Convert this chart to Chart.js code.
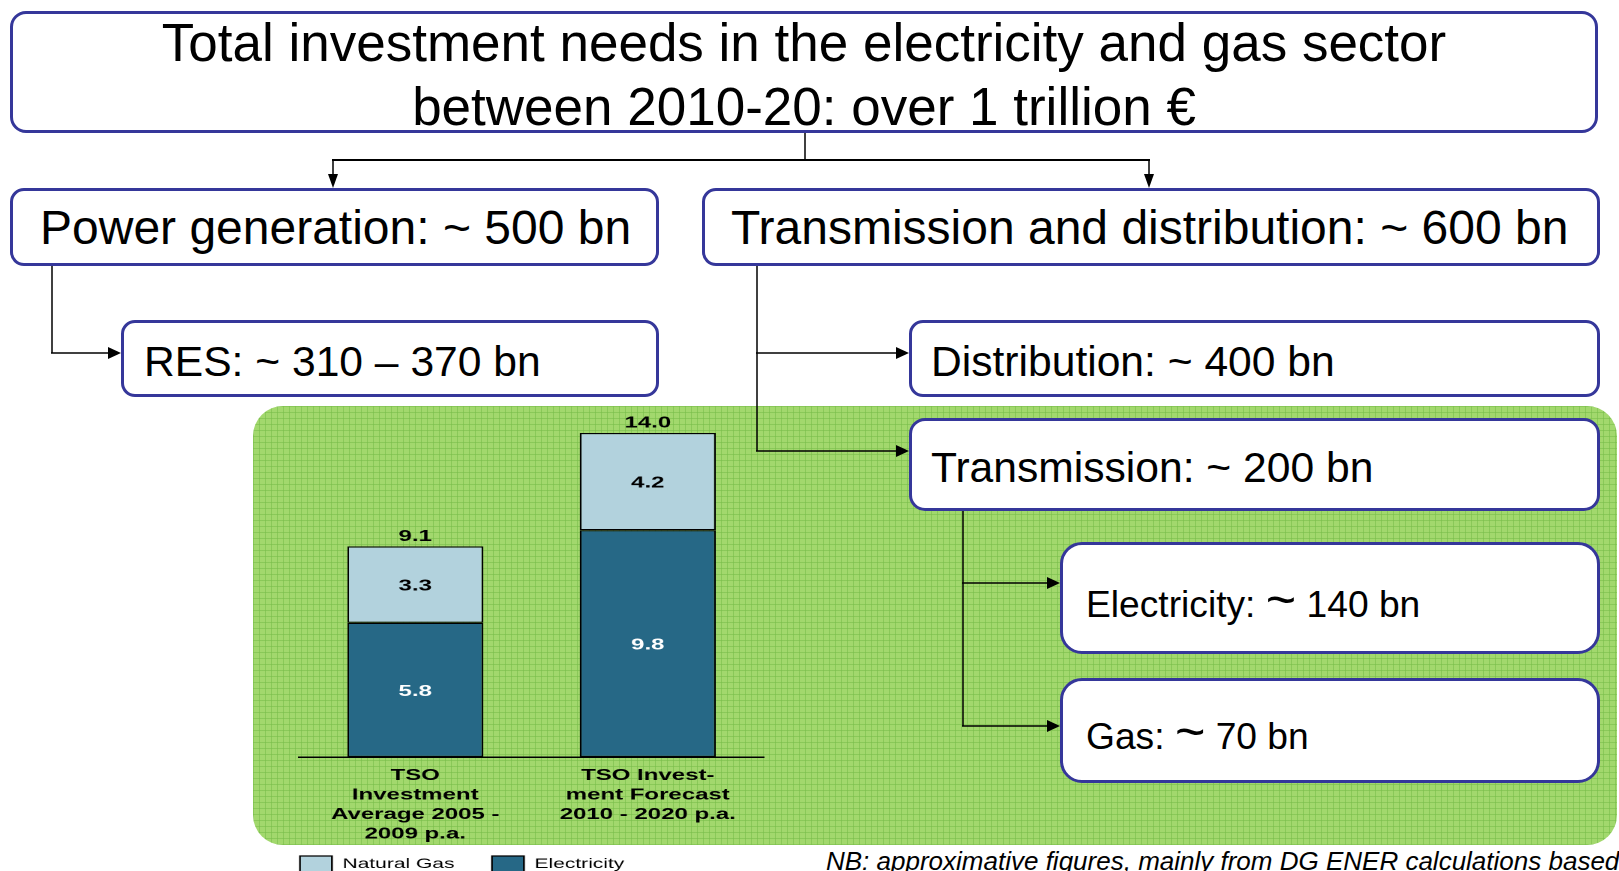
<!DOCTYPE html>
<html>
<head>
<meta charset="utf-8">
<title>Total investment needs in the electricity and gas sector</title>
<script src="https://cdn.jsdelivr.net/npm/chart.js@4.4.1/dist/chart.umd.min.js"></script>
<style>
    html, body { margin: 0; padding: 0; }
    body {
        width: 1619px; height: 871px; overflow: hidden; position: relative;
        background: #fff; color: #000;
        font-family: "Liberation Sans", Arial, sans-serif;
    }
    .green {
        position: absolute; left: 253px; top: 406px; width: 1364px; height: 439px;
        border-radius: 30px;
        background-color: #a2d86d;
        background-image:
            repeating-linear-gradient(0deg, rgba(118, 188, 72, .55) 0 1px, transparent 1px 6px),
            repeating-linear-gradient(90deg, rgba(118, 188, 72, .55) 0 1px, transparent 1px 6px);
    }
    .box {
        position: absolute; box-sizing: border-box; background: #fff;
        border: 3px solid #35379a; border-radius: 14px;
    }
    .txt { position: absolute; white-space: pre; line-height: 1; }
    .big { font-size: 1.4em; line-height: 0; }
    #wires { position: absolute; left: 0; top: 0; }
    #chartWrap {
        position: absolute; left: 253px; top: 380px; width: 360px; height: 510px;
        transform: scaleX(1.5); transform-origin: 0 0;
    }
    .nb { position: absolute; left: 826px; top: 848px; font-size: 26px; font-style: italic; line-height: 1; white-space: nowrap; }
</style>
</head>
<body>

<div class="green"></div>

<!-- boxes -->
<div class="box" style="left:10px;top:11px;width:1588px;height:122px;border-radius:16px;"></div>
<div class="box" style="left:10px;top:188px;width:649px;height:78px;"></div>
<div class="box" style="left:702px;top:188px;width:898px;height:78px;"></div>
<div class="box" style="left:121px;top:320px;width:538px;height:77px;"></div>
<div class="box" style="left:909px;top:320px;width:691px;height:77px;"></div>
<div class="box" style="left:909px;top:418px;width:691px;height:93px;border-radius:16px;"></div>
<div class="box" style="left:1060px;top:542px;width:540px;height:112px;border-radius:22px;"></div>
<div class="box" style="left:1060px;top:678px;width:540px;height:105px;border-radius:22px;"></div>

<!-- texts -->
<div class="txt" style="left:10px;width:1588px;text-align:center;top:15.8px;font-size:53px;">Total investment needs in the electricity and gas sector</div>
<div class="txt" style="left:10px;width:1588px;text-align:center;top:80.1px;font-size:53px;">between 2010-20: over 1 trillion €</div>
<div class="txt" style="left:40px;top:203.5px;font-size:48px;">Power generation: ~ 500 bn</div>
<div class="txt" style="left:731px;top:203.5px;font-size:48px;">Transmission and distribution: ~ 600 bn</div>
<div class="txt" style="left:144px;top:339.5px;font-size:42.6px;">RES: ~ 310 – 370 bn</div>
<div class="txt" style="left:931px;top:339.5px;font-size:42.6px;">Distribution: ~ 400 bn</div>
<div class="txt" style="left:931px;top:446px;font-size:42.6px;">Transmission: ~ 200 bn</div>
<div class="txt" style="left:1086px;top:586px;font-size:37.2px;">Electricity: <span class="big">~</span> 140 bn</div>
<div class="txt" style="left:1086px;top:718px;font-size:37.2px;">Gas: <span class="big">~</span> 70 bn</div>

<div class="nb">NB: approximative figures, mainly from DG ENER calculations based</div>

<!-- connectors -->
<svg id="wires" width="1619" height="871" xmlns="http://www.w3.org/2000/svg">
    <g stroke="#000" stroke-width="1.5" fill="none">
        <line x1="805" y1="133" x2="805" y2="160"/>
        <line x1="332" y1="160" x2="1150" y2="160" stroke-width="2"/>
        <line x1="333" y1="160" x2="333" y2="176"/>
        <line x1="1149" y1="160" x2="1149" y2="176"/>
        <line x1="52" y1="266" x2="52" y2="353"/>
        <line x1="51" y1="353" x2="110" y2="353"/>
        <line x1="757" y1="266" x2="757" y2="451"/>
        <line x1="756" y1="353" x2="898" y2="353"/>
        <line x1="756" y1="451" x2="898" y2="451"/>
        <line x1="963" y1="511" x2="963" y2="726"/>
        <line x1="962" y1="583" x2="1049" y2="583"/>
        <line x1="962" y1="726" x2="1049" y2="726"/>
    </g>
    <g fill="#000">
        <polygon points="328,174 338,174 333,188"/>
        <polygon points="1144,174 1154,174 1149,188"/>
        <polygon points="108,347 108,359 121,353"/>
        <polygon points="896,347 896,359 909,353"/>
        <polygon points="896,445 896,457 909,451"/>
        <polygon points="1047,577 1047,589 1060,583"/>
        <polygon points="1047,720 1047,732 1060,726"/>
    </g>
</svg>

<div id="chartWrap"><canvas id="tsoChart" width="360" height="510"></canvas></div>

<script>
// ================= DATA =================

const categories = [
    ['TSO', 'Investment', 'Average 2005 -', '2009 p.a.'],
    ['TSO Invest-', 'ment Forecast', '2010 - 2020 p.a.']
];
const electricityValues = [5.8, 9.8];
const naturalGasValues = [3.3, 4.2];
const seriesNames = ['Electricity', 'Natural Gas'];

const ELEC_COLOR = '#266886';
const GAS_COLOR = '#b2d2dd';
const FONT_FAMILY = '"Liberation Sans", Arial, sans-serif';

// ================= VALUE LABELS =================

const barLabels = {
    id: 'barLabels',
    afterLayout(chart) {
        // let the multi-line category labels run below the axis box
        const x = chart.scales.x;
        x.bottom = x.top + 110;
    },
    afterDatasetsDraw(chart) {
        const ctx = chart.ctx;
        const sets = chart.data.datasets;
        ctx.save();
        ctx.font = 'bold 16px ' + FONT_FAMILY;
        ctx.textAlign = 'center';
        ctx.textBaseline = 'middle';

        sets.forEach((ds, i) => {
            chart.getDatasetMeta(i).data.forEach((bar, j) => {
                ctx.fillStyle = i === 0 ? '#fff' : '#000';
                ctx.fillText(ds.data[j].toFixed(1), bar.x, (bar.y + bar.base) / 2 + 1.5);
            });
        });

        // totals on top of the stacks
        chart.getDatasetMeta(sets.length - 1).data.forEach((bar, j) => {
            const total = sets.reduce((sum, ds) => sum + ds.data[j], 0);
            ctx.fillStyle = '#000';
            ctx.fillText(total.toFixed(1), bar.x, bar.y - 10);
        });
        ctx.restore();
    }
};

// ================= CHART =================

function initializeChart() {
    const ctx = document.getElementById('tsoChart');

    new Chart(ctx, {
        type: 'bar',
        data: {
            labels: categories,
            datasets: [
                {
                    label: seriesNames[0],
                    data: electricityValues,
                    backgroundColor: ELEC_COLOR,
                    borderColor: '#000',
                    borderWidth: 1.2,
                    borderSkipped: false
                },
                {
                    label: seriesNames[1],
                    data: naturalGasValues,
                    backgroundColor: GAS_COLOR,
                    borderColor: '#000',
                    borderWidth: 1.2,
                    borderSkipped: false
                }
            ]
        },
        options: {
            responsive: false,
            animation: false,
            devicePixelRatio: 2,
            barPercentage: 0.585,
            categoryPercentage: 1,
            layout: { padding: { left: 6.3, right: 19.33, top: 6.7, bottom: 8 } },
            plugins: {
                tooltip: { enabled: false },
                legend: {
                    position: 'bottom',
                    align: 'start',
                    reverse: true,
                    labels: {
                        color: '#000',
                        boxWidth: 21.33,
                        boxHeight: 16,
                        padding: 25,
                        font: { family: FONT_FAMILY, size: 14 }
                    }
                }
            },
            scales: {
                x: {
                    stacked: true,
                    grid: { display: true, drawOnChartArea: false, drawTicks: false },
                    border: { display: true, color: '#000', width: 1.5 },
                    ticks: {
                        color: '#000',
                        padding: 9,
                        maxRotation: 0,
                        autoSkip: false,
                        font: { family: FONT_FAMILY, size: 16, weight: 'bold', lineHeight: 1.21875 }
                    },
                    afterFit: scale => { scale.height = 74; }
                },
                y: {
                    stacked: true,
                    min: 0,
                    max: 16,
                    ticks: { display: false },
                    grid: { display: false },
                    border: { display: false },
                    afterFit: scale => { scale.width = 24.37; }
                }
            }
        },
        plugins: [barLabels]
    });
}

document.addEventListener('DOMContentLoaded', () => {
    initializeChart();
});
</script>
</body>
</html>
